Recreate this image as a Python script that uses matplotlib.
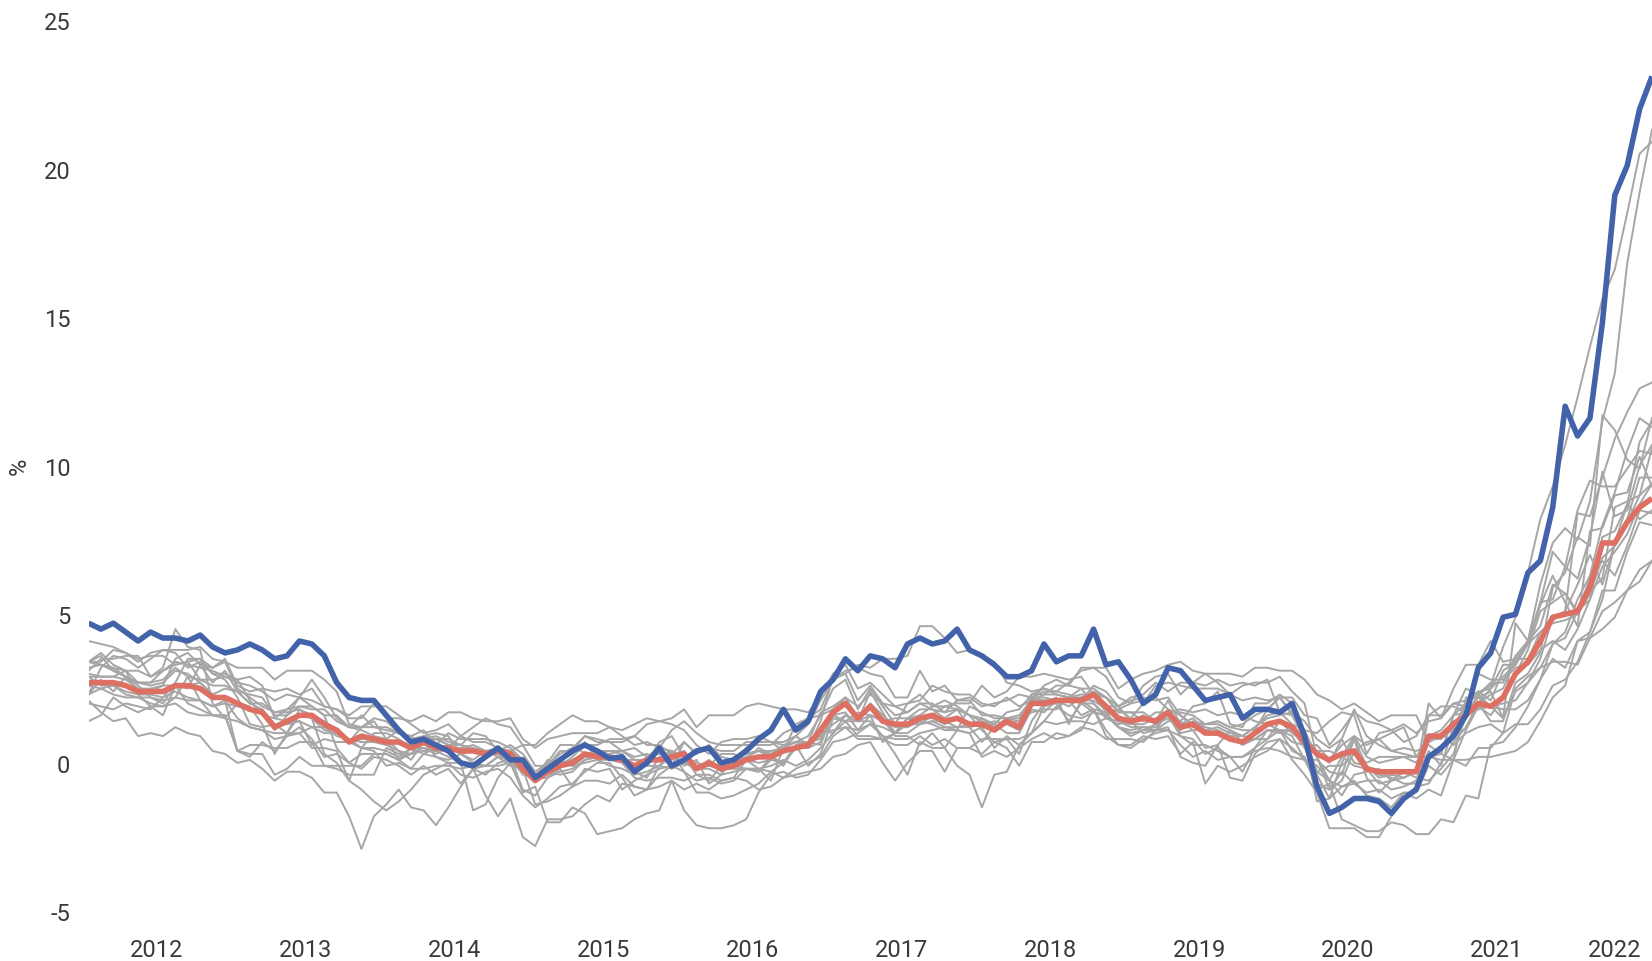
import matplotlib
matplotlib.use("Agg")
import matplotlib.pyplot as plt
import numpy as np

# Monthly annual inflation rates (%), Jan 2012 - Jul 2022
start_year = 2012
n_months = 127
year_labels = ["2012", "2013", "2014", "2015", "2016", "2017", "2018", "2019", "2020", "2021", "2022"]
y_ticks = [-5, 0, 5, 10, 15, 20, 25]

# highlighted series (blue)
estonia = [4.7, 4.5, 4.7, 4.4, 4.1, 4.4, 4.2, 4.2, 4.1, 4.3, 3.9, 3.7,
           3.8, 4.0, 3.8, 3.5, 3.6, 4.1, 4.0, 3.6, 2.7, 2.2, 2.1, 2.1,
           1.6, 1.1, 0.7, 0.8, 0.6, 0.4, 0.0, -0.1, 0.2, 0.5, 0.1, 0.1,
           -0.5, -0.2, 0.1, 0.4, 0.6, 0.4, 0.15, 0.2, -0.3, 0.0, 0.5, -0.1,
           0.1, 0.4, 0.5, 0.0, 0.1, 0.4, 0.8, 1.1, 1.8, 1.1, 1.4, 2.4,
           2.8, 3.5, 3.1, 3.6, 3.5, 3.2, 4.0, 4.2, 4.0, 4.1, 4.5, 3.8,
           3.6, 3.3, 2.9, 2.9, 3.1, 4.0, 3.4, 3.6, 3.6, 4.5, 3.3, 3.4,
           2.8, 2.0, 2.3, 3.2, 3.1, 2.6, 2.1, 2.2, 2.3, 1.5, 1.8, 1.8,
           1.7, 2.0, 0.9, -0.8, -1.7, -1.5, -1.2, -1.2, -1.3, -1.7, -1.2, -0.9,
           0.2, 0.5, 0.9, 1.6, 3.2, 3.7, 4.9, 5.0, 6.4, 6.8, 8.6, 12.0,
           11.0, 11.6, 14.8, 19.1, 20.1, 22.0, 23.1]

# aggregate series (red)
euro_area = [2.7, 2.7, 2.7, 2.6, 2.4, 2.4, 2.4, 2.6, 2.6, 2.5, 2.2, 2.2,
             2.0, 1.8, 1.7, 1.2, 1.4, 1.6, 1.6, 1.3, 1.1, 0.7, 0.9, 0.8,
             0.7, 0.7, 0.5, 0.7, 0.5, 0.5, 0.4, 0.4, 0.3, 0.4, 0.3, -0.2,
             -0.6, -0.3, -0.1, 0.0, 0.3, 0.2, 0.2, 0.1, -0.1, 0.1, 0.1, 0.2,
             0.3, -0.2, 0.0, -0.2, -0.1, 0.1, 0.2, 0.2, 0.4, 0.5, 0.6, 1.1,
             1.7, 2.0, 1.5, 1.9, 1.4, 1.3, 1.3, 1.5, 1.6, 1.4, 1.5, 1.3,
             1.3, 1.1, 1.4, 1.2, 2.0, 2.0, 2.1, 2.1, 2.1, 2.3, 1.9, 1.5,
             1.4, 1.5, 1.4, 1.7, 1.2, 1.3, 1.0, 1.0, 0.8, 0.7, 1.0, 1.3,
             1.4, 1.2, 0.7, 0.3, 0.1, 0.3, 0.4, -0.2, -0.3, -0.3, -0.3, -0.3,
             0.9, 0.9, 1.3, 1.6, 2.0, 1.9, 2.2, 3.0, 3.4, 4.1, 4.9, 5.0,
             5.1, 5.9, 7.4, 7.4, 8.1, 8.6, 8.9]

# other countries (grey)
germany = [2.3, 2.5, 2.3, 2.2, 2.2, 2.0, 1.9, 2.2, 2.1, 2.1, 1.9, 2.0,
           1.9, 1.8, 1.8, 1.1, 1.6, 1.9, 1.9, 1.6, 1.6, 1.2, 1.6, 1.2,
           1.2, 1.0, 0.9, 1.1, 0.6, 1.0, 0.8, 0.8, 0.8, 0.7, 0.5, 0.1,
           -0.5, 0.0, 0.1, 0.3, 0.7, 0.1, 0.1, 0.1, -0.2, 0.2, 0.3, 0.2,
           0.4, -0.2, 0.1, -0.3, 0.0, 0.2, 0.4, 0.3, 0.5, 0.7, 0.7, 1.7,
           1.9, 2.2, 1.5, 2.0, 1.4, 1.5, 1.5, 1.8, 1.8, 1.5, 1.8, 1.6,
           1.4, 1.2, 1.5, 1.4, 2.2, 2.1, 2.1, 1.9, 2.2, 2.4, 2.2, 1.7,
           1.7, 1.7, 1.4, 2.1, 1.3, 1.5, 1.1, 1.0, 0.9, 0.9, 1.2, 1.5,
           1.6, 1.7, 1.4, 0.8, 0.5, 0.8, 0.0, -0.1, -0.4, -0.5, -0.7, -0.7,
           1.6, 1.6, 2.0, 2.1, 2.4, 2.1, 3.1, 3.4, 4.1, 4.6, 6.0, 5.7,
           5.1, 5.5, 7.6, 7.8, 8.7, 8.2, 8.5]
france = [2.6, 2.5, 2.6, 2.4, 2.3, 2.3, 2.2, 2.4, 2.2, 2.1, 1.6, 1.5,
          1.4, 1.2, 1.1, 0.8, 0.9, 1.0, 1.2, 1.0, 1.0, 0.7, 0.8, 0.8,
          0.8, 1.1, 0.7, 0.8, 0.8, 0.6, 0.6, 0.5, 0.4, 0.5, 0.4, 0.1,
          -0.4, -0.3, 0.0, 0.1, 0.3, 0.3, 0.2, 0.1, 0.1, 0.1, 0.1, 0.3,
          0.3, -0.1, -0.1, -0.1, 0.1, 0.3, 0.4, 0.4, 0.5, 0.5, 0.7, 0.8,
          1.6, 1.4, 1.4, 1.4, 0.9, 0.8, 0.8, 1.0, 1.1, 1.2, 1.2, 1.2,
          1.5, 1.3, 1.7, 1.8, 2.3, 2.3, 2.6, 2.6, 2.5, 2.5, 2.2, 1.9,
          1.4, 1.6, 1.3, 1.5, 1.1, 1.4, 1.3, 1.3, 1.1, 0.9, 1.2, 1.6,
          1.7, 1.6, 0.8, 0.4, 0.4, 0.2, 0.9, 0.2, 0.0, 0.1, 0.2, 0.0,
          0.8, 0.8, 1.4, 1.6, 1.8, 1.9, 1.5, 2.4, 2.7, 3.2, 3.4, 3.4,
          3.3, 4.2, 5.1, 5.4, 5.8, 6.5, 6.8]
italy = [3.4, 3.4, 3.8, 3.7, 3.5, 3.6, 3.6, 3.3, 3.4, 2.8, 2.6, 2.6,
         2.4, 2.0, 1.8, 1.3, 1.3, 1.4, 1.2, 1.2, 0.9, 0.8, 0.7, 0.7,
         0.6, 0.4, 0.3, 0.5, 0.4, 0.2, 0.0, -0.2, -0.1, 0.2, 0.3, -0.1,
         -0.5, 0.1, 0.0, -0.1, 0.2, 0.2, 0.3, 0.4, 0.2, 0.3, 0.1, 0.1,
         0.4, -0.2, -0.2, -0.4, -0.3, -0.2, -0.2, -0.1, 0.1, -0.1, 0.1, 0.5,
         1.0, 1.6, 1.4, 2.0, 1.6, 1.2, 1.2, 1.4, 1.3, 1.1, 1.1, 1.0,
         1.2, 0.5, 0.9, 0.6, 1.0, 1.4, 1.9, 1.6, 1.5, 1.7, 1.6, 1.2,
         0.9, 1.1, 1.1, 1.1, 0.9, 0.8, 0.3, 0.5, 0.2, 0.2, 0.4, 0.5,
         0.4, 0.2, 0.1, 0.1, -0.3, -0.4, 0.8, -0.5, -1.0, -0.6, -0.3, -0.3,
         0.7, 1.0, 0.6, 1.0, 1.2, 1.3, 1.0, 2.5, 2.9, 3.2, 4.0, 4.2,
         5.1, 6.2, 6.8, 6.3, 7.3, 8.5, 8.4]
spain = [2.0, 1.9, 1.8, 2.0, 1.9, 1.8, 2.2, 2.7, 3.5, 3.5, 3.0, 3.0,
         2.8, 2.9, 2.6, 1.5, 1.8, 2.2, 1.9, 1.6, 0.5, 0.0, 0.3, 0.3,
         0.3, 0.1, -0.2, 0.3, 0.2, 0.0, -0.4, -0.5, -0.3, -0.2, -0.5, -1.1,
         -1.5, -1.2, -0.8, -0.7, -0.3, 0.0, 0.0, -0.5, -1.1, -0.9, -0.4, -0.1,
         -0.3, -1.0, -1.0, -1.2, -1.1, -0.9, -0.7, -0.3, 0.0, 0.5, 0.5, 1.4,
         2.9, 3.0, 2.1, 2.6, 2.0, 1.6, 1.7, 2.0, 1.8, 1.7, 1.8, 1.2,
         0.7, 1.2, 1.3, 1.1, 2.1, 2.3, 2.3, 2.2, 2.3, 2.3, 1.7, 1.2,
         1.0, 1.1, 1.3, 1.6, 0.9, 0.6, 0.6, 0.4, 0.2, 0.2, 0.5, 0.8,
         1.1, 0.9, 0.1, -0.7, -0.9, -0.3, -0.7, -0.6, -0.6, -0.9, -0.8, -0.6,
         0.4, -0.1, 1.2, 2.0, 2.4, 2.5, 2.9, 3.3, 4.0, 5.4, 5.5, 6.6,
         6.2, 7.6, 9.8, 8.3, 8.5, 10.0, 10.7]
netherlands = [2.9, 2.9, 2.9, 2.8, 2.5, 2.5, 2.6, 2.6, 2.5, 3.3, 3.2, 3.4,
               3.2, 3.2, 3.2, 2.8, 3.1, 3.1, 3.1, 2.8, 2.4, 1.3, 1.2, 1.4,
               0.8, 0.4, 0.1, 0.7, 0.2, 0.1, 0.3, 0.4, 0.3, 0.3, 0.3, 0.1,
               -0.4, -0.1, 0.4, 0.4, 0.9, 0.7, 0.7, 0.4, 0.5, 0.2, 0.5, 0.4,
               0.2, 0.3, 0.6, -0.2, -0.2, -0.2, -0.3, 0.2, 0.0, 0.5, 0.5, 0.7,
               1.6, 1.7, 1.1, 1.6, 0.7, 1.0, 1.5, 1.5, 1.5, 1.3, 1.5, 1.2,
               1.3, 1.3, 1.0, 1.0, 1.8, 1.7, 2.1, 2.1, 1.6, 1.8, 1.7, 1.8,
               2.0, 2.6, 2.9, 3.0, 2.3, 2.7, 2.6, 2.8, 2.6, 2.7, 2.6, 2.8,
               1.7, 1.3, 1.1, 1.0, 1.4, 1.7, 1.6, 0.3, 1.0, 1.1, 0.7, 0.9,
               1.6, 1.9, 1.9, 1.7, 2.0, 1.4, 1.4, 2.7, 3.0, 3.7, 5.9, 6.4,
               7.6, 7.3, 11.7, 11.2, 10.2, 9.9, 11.6]
belgium = [3.4, 3.3, 3.1, 2.9, 2.6, 2.2, 2.0, 2.6, 2.6, 2.7, 2.3, 2.1,
           1.5, 1.2, 1.1, 1.0, 1.0, 1.6, 1.5, 1.1, 1.0, 0.7, 1.2, 1.2,
           1.1, 1.0, 0.9, 0.6, 0.8, 0.6, 0.6, 0.4, 0.3, 0.3, 0.2, -0.4,
           -0.4, -0.4, -0.1, 0.2, 0.6, 0.6, 0.8, 0.8, 0.9, 1.3, 1.4, 1.5,
           1.8, 1.2, 1.6, 1.6, 1.6, 1.9, 2.0, 1.9, 1.8, 1.8, 1.7, 2.2,
           3.0, 3.3, 2.5, 2.7, 2.3, 1.9, 1.7, 2.0, 2.0, 1.7, 2.1, 2.1,
           1.6, 1.6, 1.5, 1.6, 2.1, 2.6, 2.8, 2.6, 3.2, 3.2, 2.9, 2.2,
           2.0, 2.1, 2.2, 1.8, 1.6, 1.3, 1.2, 1.1, 0.9, 0.6, 0.8, 0.8,
           1.4, 1.0, 0.7, 0.3, 0.0, 0.8, 1.8, 0.9, 0.6, 0.4, 0.5, 0.4,
           0.6, 0.3, 1.6, 1.7, 2.2, 2.4, 1.5, 4.7, 4.1, 5.4, 7.1, 6.6,
           8.5, 9.5, 9.3, 9.3, 9.9, 10.5, 10.4]
austria = [2.9, 2.6, 2.6, 2.3, 2.2, 2.2, 2.1, 2.2, 2.9, 2.8, 2.8, 2.9,
           2.7, 2.6, 2.4, 2.1, 2.3, 2.2, 2.1, 1.9, 1.8, 1.5, 1.5, 2.0,
           1.5, 1.5, 1.4, 1.6, 1.4, 1.7, 1.7, 1.5, 1.4, 1.4, 1.5, 0.8,
           0.5, 0.8, 0.9, 1.0, 1.0, 1.0, 1.2, 0.9, 0.6, 0.7, 0.5, 1.1,
           1.4, 1.0, 0.7, 0.6, 0.6, 0.6, 0.6, 0.6, 1.0, 1.2, 1.5, 1.6,
           1.8, 2.2, 1.9, 2.3, 2.0, 1.9, 2.0, 2.1, 2.6, 2.4, 2.3, 2.3,
           2.0, 1.9, 2.2, 1.9, 2.1, 2.1, 2.1, 2.2, 2.2, 2.3, 2.2, 1.7,
           1.7, 1.4, 1.7, 1.7, 1.7, 1.6, 1.3, 1.4, 1.2, 1.1, 1.1, 1.8,
           2.2, 2.2, 1.6, 1.5, 0.6, 1.1, 1.7, 1.4, 1.3, 1.1, 1.3, 1.0,
           1.4, 1.5, 2.0, 1.9, 3.0, 2.8, 2.8, 3.2, 3.3, 3.8, 4.1, 3.8,
           4.5, 5.5, 6.6, 7.1, 7.7, 8.7, 9.4]
portugal = [3.4, 3.6, 3.1, 2.9, 2.7, 2.7, 2.8, 3.2, 2.9, 2.1, 1.9, 2.1,
            0.4, 0.2, 0.7, 0.4, 0.9, 1.2, 0.8, 0.2, 0.3, 0.0, -0.2, 0.2,
            0.1, -0.1, -0.4, -0.1, -0.4, -0.2, -0.7, -0.2, -0.4, 0.0, 0.1, -0.3,
            -0.4, -0.1, 0.3, 0.5, 0.9, 0.8, 0.7, 0.7, 0.9, 0.6, 0.6, 0.3,
            0.7, 0.3, 0.5, 0.4, 0.4, 0.7, 0.7, 0.7, 0.7, 0.9, 0.6, 0.9,
            1.3, 1.6, 1.4, 2.4, 1.7, 1.0, 1.0, 1.3, 1.6, 1.9, 1.8, 1.6,
            1.1, 0.7, 0.8, 0.3, 1.4, 2.0, 2.2, 1.3, 2.1, 1.8, 0.9, 0.6,
            0.6, 0.9, 0.8, 0.9, 0.3, 0.7, -0.7, -0.1, -0.3, -0.1, 0.2, 0.4,
            0.8, 0.5, 0.1, -0.1, -0.6, 0.2, -0.1, -0.2, -0.7, -0.6, -0.5, -0.3,
            0.3, 0.3, 0.1, -0.1, 0.5, 0.5, 1.0, 1.3, 1.3, 1.8, 2.6, 2.8,
            3.4, 4.4, 5.5, 7.4, 8.1, 9.0, 9.4]
greece = [2.1, 1.7, 1.4, 1.5, 0.9, 1.0, 0.9, 1.2, 1.0, 0.9, 0.4, 0.3,
          0.0, 0.1, -0.2, -0.6, -0.3, -0.3, -0.5, -1.0, -1.0, -1.8, -2.9, -1.8,
          -1.4, -0.9, -1.5, -1.6, -2.1, -1.5, -0.8, -0.2, -1.1, -1.8, -1.2, -2.5,
          -2.8, -1.9, -1.9, -1.8, -1.4, -1.1, -1.3, -0.7, -0.8, -0.9, -0.1, 0.4,
          -0.1, 0.1, -0.7, -0.4, 0.2, 0.3, 0.4, 0.2, -0.1, 0.6, -0.1, 0.3,
          1.5, 1.4, 1.7, 1.6, 1.5, 0.9, 0.9, 0.6, 1.0, 0.5, 1.1, 1.0,
          0.2, 0.4, 0.2, 0.5, 0.8, 1.0, 0.8, 0.9, 1.1, 1.8, 1.1, 0.6,
          0.5, 0.8, 1.0, 1.1, 0.6, 0.2, 0.4, 0.1, 0.2, -0.3, 0.5, 1.1,
          1.1, 0.4, 0.2, -0.9, -0.7, -1.9, -2.1, -2.3, -2.3, -2.0, -2.1, -2.4,
          -2.4, -1.9, -2.0, -1.1, -1.2, 0.6, 0.7, 1.2, 1.9, 2.8, 4.0, 4.4,
          5.5, 6.3, 8.0, 9.1, 10.5, 11.6, 11.3]
ireland = [1.4, 1.6, 2.2, 1.9, 1.7, 1.9, 1.6, 2.6, 2.0, 1.8, 1.6, 1.6,
           0.4, 0.6, 0.6, 0.5, 0.5, 0.7, 0.7, -0.1, -0.1, -0.1, -0.1, 0.3,
           0.3, 0.1, 0.3, 0.4, 0.4, 0.5, 0.5, 0.6, 0.4, 0.3, 0.0, -0.3,
           -0.4, -0.3, -0.4, -0.3, 0.1, 0.2, 0.2, 0.1, -0.1, -0.1, -0.1, 0.2,
           0.0, -0.2, -0.1, -0.2, -0.1, 0.1, -0.2, -0.3, -0.5, -0.4, -0.3, -0.2,
           0.2, 0.3, 0.6, 0.7, 0.0, -0.6, 0.0, 0.4, 0.4, -0.3, 0.5, 0.5,
           0.3, 0.7, 0.5, -0.1, 0.7, 0.7, 1.0, 0.9, 1.2, 1.1, 0.8, 0.8,
           0.8, 0.7, 1.1, 1.7, 1.0, 1.1, 0.5, 0.6, 1.1, 0.7, 0.8, 1.1,
           1.1, 1.1, 0.5, -0.3, -0.6, -0.8, -0.6, -1.1, -1.2, -1.5, -1.0, -1.0,
           -0.1, -0.4, 0.1, 1.1, 1.9, 1.6, 2.2, 3.0, 3.8, 5.1, 5.4, 5.7,
           5.0, 5.7, 6.9, 7.3, 8.2, 9.6, 9.6]
finland = [3.0, 2.9, 2.9, 3.1, 3.1, 2.9, 3.1, 3.3, 3.4, 3.5, 3.2, 3.5,
           2.6, 2.4, 2.5, 2.4, 2.5, 2.3, 2.5, 1.9, 1.8, 1.6, 1.9, 1.9,
           1.9, 1.6, 1.3, 1.0, 1.1, 1.3, 0.9, 1.2, 1.5, 1.3, 1.2, 0.6,
           -0.1, -0.1, 0.0, -0.1, 0.0, 0.1, -0.1, -0.2, -0.4, -0.3, -0.1, -0.2,
           0.0, 0.0, -0.1, 0.3, 0.3, 0.1, 0.5, 0.3, 0.6, 0.7, 0.6, 1.1,
           1.0, 1.4, 0.9, 0.9, 0.8, 0.6, 0.6, 0.9, 0.6, 0.8, 0.5, 0.5,
           0.8, 0.8, 0.8, 0.8, 1.0, 1.4, 1.3, 1.4, 1.4, 1.3, 1.5, 1.4,
           1.2, 1.2, 1.1, 1.4, 1.4, 1.1, 1.1, 1.2, 1.0, 0.9, 0.8, 1.1,
           1.0, 1.1, 0.9, -0.3, -0.1, -0.1, 0.3, 0.0, 0.2, 0.2, 0.2, 0.2,
           0.9, 1.1, 1.6, 2.0, 2.3, 1.9, 1.8, 1.8, 2.1, 2.8, 3.5, 3.2,
           4.1, 4.4, 5.8, 5.8, 7.1, 8.1, 8.0]
luxembourg = [3.2, 3.3, 3.2, 2.9, 2.7, 2.6, 2.7, 3.1, 3.0, 2.7, 2.3, 2.5,
              2.4, 2.0, 2.0, 1.7, 1.8, 1.9, 1.8, 1.8, 1.4, 1.2, 1.2, 1.5,
              1.4, 1.0, 0.8, 0.9, 0.8, 0.8, 0.6, 0.4, 0.3, 0.5, 0.2, -0.9,
              -1.1, -0.5, -0.1, 0.1, 0.3, 0.4, 0.4, 0.4, 0.1, 0.0, 0.7, 0.9,
              0.2, -0.4, -0.6, -0.1, -0.1, -0.2, -0.2, -0.6, 0.5, 0.7, 0.9, 1.6,
              2.5, 2.8, 1.8, 2.5, 1.9, 1.3, 2.0, 2.3, 1.9, 2.1, 1.9, 1.6,
              1.5, 1.2, 1.4, 1.2, 2.3, 2.5, 2.4, 2.3, 2.1, 2.6, 2.4, 1.9,
              2.1, 2.2, 2.1, 2.2, 1.6, 1.2, 1.3, 1.4, 1.2, 1.3, 1.6, 1.8,
              2.2, 1.6, 0.9, -0.4, -1.2, 0.0, 0.8, -0.1, -0.5, -0.4, -0.5, -0.3,
              2.0, 1.5, 2.5, 3.3, 3.3, 4.1, 3.4, 3.5, 4.0, 5.3, 6.3, 5.4,
              4.6, 7.8, 7.9, 9.0, 9.1, 10.3, 9.3]
slovakia = [4.1, 4.0, 3.9, 3.7, 3.4, 3.7, 3.8, 3.8, 3.8, 3.9, 3.5, 3.4,
            2.5, 2.2, 1.9, 1.7, 1.7, 1.8, 1.6, 1.4, 1.1, 0.8, 0.5, 0.4,
            -0.1, 0.0, -0.2, -0.2, -0.1, -0.1, -0.2, -0.1, -0.1, -0.1, 0.0, -0.1,
            -0.5, -0.5, -0.3, -0.2, 0.1, 0.2, 0.1, 0.0, -0.5, -0.6, -0.5, -0.5,
            -0.6, -0.4, -0.4, -0.6, -0.5, -0.6, -0.9, -0.8, -0.5, -0.2, 0.0, 0.2,
            0.9, 1.2, 0.8, 0.8, 0.8, 1.0, 1.5, 1.6, 1.9, 1.9, 2.0, 2.0,
            2.6, 2.2, 2.4, 2.9, 2.9, 3.0, 2.9, 2.8, 2.9, 2.3, 1.9, 1.9,
            2.2, 2.3, 2.7, 2.4, 2.7, 2.7, 3.0, 3.0, 3.0, 2.9, 3.2, 3.2,
            3.1, 3.1, 2.8, 2.3, 2.1, 1.8, 2.0, 1.7, 1.4, 1.6, 1.6, 1.6,
            0.7, 0.9, 1.1, 1.6, 2.0, 2.5, 3.3, 3.3, 4.0, 4.4, 4.8, 5.1,
            8.4, 8.3, 9.6, 10.9, 11.8, 12.6, 12.8]
slovenia = [2.3, 2.8, 2.4, 2.9, 2.4, 2.4, 2.6, 3.5, 3.7, 3.3, 2.7, 3.1,
            2.4, 2.3, 2.2, 1.6, 1.6, 2.2, 2.8, 2.2, 1.5, 1.2, 1.1, 0.9,
            0.8, 0.1, 0.5, 0.9, 1.0, 0.9, 0.3, 0.0, -0.1, 0.2, 0.1, -0.1,
            -0.5, -0.5, -0.2, -0.8, -0.6, -0.6, -0.7, -0.4, -0.8, -0.9, -0.8, -0.6,
            -0.9, -0.7, -0.9, -0.6, -0.5, 0.1, 0.0, 0.1, 0.0, 0.6, 0.7, 0.6,
            1.7, 2.2, 1.4, 1.6, 1.4, 1.0, 1.5, 1.3, 1.4, 1.2, 1.1, 1.9,
            1.7, 1.5, 1.5, 1.5, 2.2, 2.2, 2.1, 2.2, 2.1, 2.1, 1.8, 1.4,
            1.3, 1.3, 1.5, 1.7, 1.4, 1.9, 2.0, 2.4, 1.3, 1.2, 2.0, 2.0,
            2.3, 2.0, 0.7, -1.3, -1.2, -0.8, -0.7, -1.0, -0.9, -1.2, -1.0, -1.2,
            -0.9, -1.1, 0.1, 2.2, 2.2, 1.9, 2.0, 2.1, 2.7, 3.5, 4.9, 5.1,
            6.0, 7.0, 6.0, 7.4, 8.7, 10.8, 11.5]
latvia = [3.4, 3.3, 3.2, 3.1, 2.3, 1.9, 1.9, 2.0, 1.7, 1.6, 1.6, 1.6,
          0.4, 0.3, 0.3, -0.4, -0.2, 0.2, -0.1, -0.1, -0.2, -0.4, -0.4, -0.4,
          0.5, 0.3, 0.3, 0.8, 0.9, 0.7, 0.6, 1.0, 0.9, 0.4, 0.6, 0.3,
          -0.3, 0.0, 0.6, 0.6, 0.3, 0.3, 0.4, 0.3, -0.3, -0.5, 0.2, 0.4,
          -0.3, -0.6, -0.5, -0.7, -0.6, -0.2, -0.3, 0.1, 0.5, 0.9, 1.3, 2.1,
          2.8, 3.1, 3.2, 3.0, 2.9, 2.2, 2.2, 3.1, 2.4, 2.6, 2.1, 2.2,
          1.9, 2.0, 2.1, 2.3, 2.2, 2.4, 2.4, 2.7, 3.1, 3.2, 3.2, 2.5,
          2.8, 3.0, 3.1, 3.3, 3.4, 3.1, 3.0, 2.7, 2.3, 2.1, 2.2, 2.1,
          2.2, 1.7, 1.1, 0.2, -0.6, -1.1, -0.4, -0.3, -0.2, -0.6, -0.3, -0.5,
          -0.6, -0.2, 0.3, 1.6, 2.3, 2.7, 2.7, 3.6, 4.1, 6.0, 7.4, 7.9,
          7.5, 8.8, 11.5, 13.1, 16.8, 19.2, 21.3]
lithuania = [3.4, 3.7, 3.3, 3.1, 2.7, 2.7, 3.1, 3.4, 3.3, 3.2, 3.1, 2.9,
             2.8, 2.1, 1.6, 1.5, 1.4, 1.4, 0.6, 0.8, 0.7, 0.7, 0.5, 0.5,
             0.4, 0.2, 0.5, 0.3, 0.5, 0.5, 0.3, 0.1, 0.4, 0.2, -0.1, -0.2,
             -1.4, -1.3, -1.1, -0.8, -0.2, -0.3, -0.2, -0.9, -0.6, -0.4, -0.2, -0.1,
             0.7, 0.3, 0.6, 0.2, 0.1, 0.5, 0.7, 0.7, 0.4, 1.3, 1.5, 1.8,
             2.8, 3.0, 3.3, 3.2, 3.5, 3.5, 3.6, 4.6, 4.6, 4.2, 3.7, 3.8,
             3.6, 3.4, 2.7, 2.6, 2.4, 2.5, 2.3, 2.2, 2.5, 2.0, 1.6, 1.8,
             1.5, 2.0, 2.6, 2.7, 2.6, 2.5, 2.5, 2.5, 2.3, 2.6, 2.7, 2.7,
             2.9, 2.4, 2.0, 0.2, -0.9, -0.6, 0.4, 0.7, 0.8, 1.0, 1.2, 0.2,
             0.2, 0.3, 1.6, 2.5, 2.3, 2.6, 3.9, 4.9, 6.4, 8.2, 9.3, 10.7,
             12.3, 14.0, 15.6, 16.6, 18.5, 20.5, 20.9]
cyprus = [3.1, 3.5, 3.5, 3.6, 3.6, 2.9, 3.2, 4.5, 3.9, 3.8, 2.0, 1.5,
          2.0, 1.9, 1.3, 0.3, 1.0, 1.8, 1.5, 0.3, 0.0, -0.6, -0.9, -1.3,
          -1.6, -1.3, -0.9, -0.4, -0.2, 0.0, 0.0, -1.6, -1.4, -0.5, 0.0, -1.0,
          -0.8, -2.0, -2.0, -1.5, -1.7, -2.4, -2.3, -2.2, -1.9, -1.7, -1.6, -0.6,
          -1.6, -2.1, -2.2, -2.2, -2.1, -1.9, -1.0, -0.4, -0.3, -0.5, -0.4, 0.1,
          0.7, 0.8, 1.0, 1.3, 0.9, 0.3, -0.4, 0.7, 0.5, 0.5, -0.1, -0.4,
          -1.5, -0.4, -0.3, 0.6, 1.0, 1.9, 2.0, 1.4, 2.0, 2.0, 1.5, 1.3,
          1.4, 1.0, 1.1, 1.2, 0.2, 0.0, -0.1, 0.6, -0.5, -0.6, 0.3, 0.7,
          0.8, 0.1, -0.4, -1.0, -2.2, -2.2, -2.2, -2.5, -2.5, -1.8, -1.2, -0.8,
          -0.7, 0.0, 0.7, 1.2, 2.0, 2.3, 2.5, 3.5, 3.5, 4.4, 4.7, 4.8,
          5.0, 5.8, 6.2, 8.6, 8.8, 9.0, 10.6]
malta = [2.3, 3.2, 3.6, 3.5, 3.2, 3.5, 3.8, 3.7, 3.2, 3.4, 3.0, 2.8,
         2.2, 1.3, 1.2, 1.3, 1.0, 1.0, 0.5, 0.5, 0.4, -0.6, 0.5, 1.0,
         1.0, 0.8, 0.5, 0.5, 0.3, 0.5, 0.9, 0.7, 0.7, 0.5, 0.4, 0.6,
         0.6, 1.0, 1.3, 1.6, 1.4, 1.4, 1.2, 1.1, 1.3, 1.5, 1.4, 1.3,
         1.1, 0.6, 0.3, 0.7, 0.8, 0.8, 0.9, 0.7, 0.6, 0.7, 0.6, 1.0,
         1.1, 1.2, 1.1, 1.3, 1.2, 1.0, 1.3, 1.3, 1.4, 1.4, 1.2, 1.3,
         1.3, 1.4, 1.3, 1.4, 1.7, 1.8, 1.8, 2.2, 2.0, 1.7, 1.6, 1.2,
         1.1, 1.2, 1.2, 1.7, 1.8, 1.7, 1.8, 1.6, 1.7, 1.6, 1.4, 1.3,
         1.1, 0.7, 0.6, 0.6, 0.1, 0.6, 0.9, 0.6, 0.8, 0.4, 0.3, 0.2,
         0.2, 0.1, 0.1, 0.1, 0.2, 0.2, 0.3, 0.4, 0.7, 1.4, 2.2, 2.6,
         4.1, 4.2, 4.5, 4.9, 5.8, 6.1, 6.8]

others = [germany, france, italy, spain, netherlands, belgium, austria, portugal,
          greece, ireland, finland, luxembourg, slovakia, slovenia, latvia,
          lithuania, cyprus, malta]

# ---------------------------------------------------------------- drawing
plt.rcParams["font.family"] = ["Roboto", "DejaVu Sans"]
plt.rcParams["axes.unicode_minus"] = False

W, H = 1652, 962
fig = plt.figure(figsize=(W / 100, H / 100), dpi=100)
ax = fig.add_axes([88.5 / W, (H - 912.4) / H, (W - 88.5) / W, (912.4 - 21) / H])

x = np.arange(n_months)
grey = "#A6A6A6"
blue = "#4262AA"
red = "#DE6F63"
text_col = "#3A3A3A"

for s in others:
    ax.plot(x, s, color=grey, lw=1.4, zorder=2)
ax.plot(x, euro_area, color=red, lw=4.0, zorder=3, solid_capstyle="butt")
ax.plot(x, estonia, color=blue, lw=4.0, zorder=4, solid_capstyle="butt")

ax.set_xlim(0, n_months - 1)
ax.set_ylim(y_ticks[0], y_ticks[-1])

# year labels centred on the months of each year
xt = []
for k, lab in enumerate(year_labels):
    first = 12 * k
    last = min(12 * k + 11, n_months - 1)
    xt.append((first + last) / 2)
ax.set_xticks(xt)
ax.set_xticklabels(year_labels)
ax.set_yticks(y_ticks)
ax.set_yticklabels([str(v) for v in y_ticks])

ax.tick_params(axis="both", length=0, labelsize=17, colors=text_col)
ax.tick_params(axis="y", pad=13)
ax.tick_params(axis="x", pad=19)
for sp in ax.spines.values():
    sp.set_visible(False)
ax.grid(False)

ax.set_ylabel("%", fontsize=17, color=text_col)
ax.yaxis.set_label_coords(-(88.5 - 31) / (W - 88.5), 0.5)

fig.savefig("out.png", dpi=100)
